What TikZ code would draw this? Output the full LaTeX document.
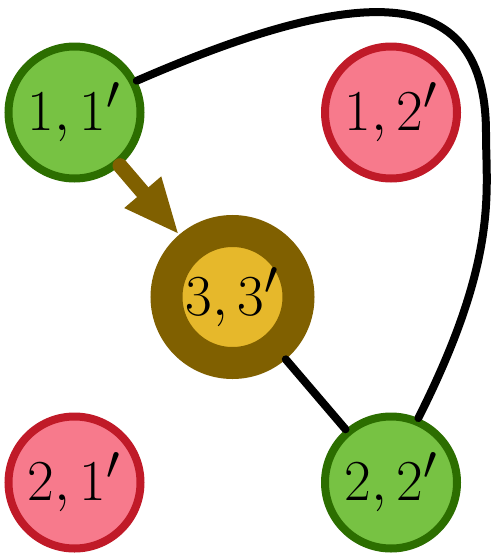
\documentclass[tikz,border=0pt]{standalone}
\usepackage{graphicx}
\usetikzlibrary{arrows.meta}
\definecolor{gfill}{RGB}{119,194,67}
\definecolor{gdraw}{RGB}{44,110,0}
\definecolor{rfill}{RGB}{247,122,140}
\definecolor{rdraw}{RGB}{192,26,40}
\definecolor{yfill}{RGB}{230,184,43}
\definecolor{bdraw}{RGB}{128,96,0}
\newcommand{\vlab}[1]{\scalebox{2.33}{\Huge$#1$}}
\tikzset{
  vtx/.style={circle, minimum size=132pt, inner sep=0pt, line width=8pt},
  gv/.style={vtx, fill=gfill, draw=gdraw},
  rv/.style={vtx, fill=rfill, draw=rdraw},
  yv/.style={vtx, fill=yfill, draw=bdraw, line width=32pt},
  conn/.style={line width=8pt, line cap=round, black},
  barrow/.style={line width=15pt, line cap=round, draw=bdraw, -{Triangle[length=56pt,width=44pt]}}
}
\begin{document}
\begin{tikzpicture}[x=1pt,y=-1pt]
\useasboundingbox (0,0) rectangle (498,557);
\node[gv] (n11) at (74.5,112.5) {\vlab{1,1'}};
\node[rv] (n12) at (391,112.5) {\vlab{1,2'}};
\node[yv] (n33) at (232.5,297) {\vlab{3,3'}};
\node[rv] (n21) at (74.5,482.5) {\vlab{2,1'}};
\node[gv] (n22) at (391,482.5) {\vlab{2,2'}};
\coordinate (via) at (486,133);
\draw[barrow] (n11) -- (n33);
\draw[conn] (n33) -- (n22);
\draw[conn] (n11.27) .. controls (366,-19) and (486,-17) .. (via) .. controls (486,193) and (499,258) .. (n22.67);
\end{tikzpicture}
\end{document}
